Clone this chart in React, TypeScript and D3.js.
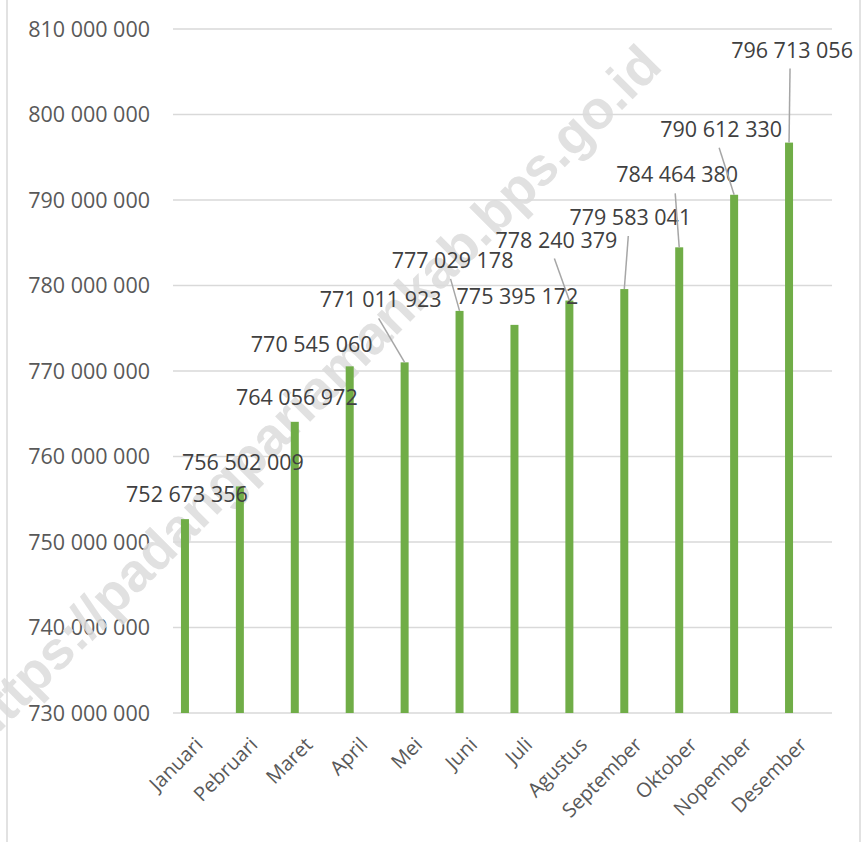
import React from 'react';
import * as d3 from 'd3';

// Data
const months = [
  'Januari', 'Pebruari', 'Maret', 'April', 'Mei', 'Juni',
  'Juli', 'Agustus', 'September', 'Oktober', 'Nopember', 'Desember'
];
const values = [
  752673356, 756502009, 764056972, 770545060, 771011923, 777029178,
  775395172, 778240379, 779583041, 784464380, 790612330, 796713056
];
const yDomain = [730000000, 810000000];

// label layout: moved data labels (dx, dy from bar top) and whether a leader line is drawn
const labelNudge: Array<[number, number, boolean]> = [
  [2, -17, false],
  [3, -16, false],
  [2, -17, false],
  [-38, -14, false],
  [-24, -55, true],
  [-7, -43, true],
  [3, -21, false],
  [-13, -53, true],
  [6, -64, true],
  [-2, -65, true],
  [-13, -58, true],
  [3, -85, true]
];

const WIDTH = 862;
const HEIGHT = 842;
const FONT = '"Open Sans", "DejaVu Sans", sans-serif';

const plot = { left: 173, right: 832, top: 29, bottom: 713 };

const fmt = (v: number) => d3.format(',')(v).replace(/,/g, ' ');

export default function App() {
  const xScale = d3
    .scaleBand()
    .domain(months)
    .range([157.5, 816.5])
    .padding(0);

  const yScale = d3
    .scaleLinear()
    .domain(yDomain)
    .range([plot.bottom, plot.top]);

  const ticks = yScale.ticks(8);
  const barW = 8;
  const cx = (m: string) => (xScale(m) || 0) + xScale.bandwidth() / 2;

  return (
    <svg
      width={WIDTH}
      height={HEIGHT}
      viewBox={`0 0 ${WIDTH} ${HEIGHT}`}
      style={{ position: 'absolute', left: 0, top: 0, background: '#fff' }}
    >
      {/* chart border */}
      <rect x={7} y={-10} width={853} height={HEIGHT + 20} fill="#fff" stroke="#d9d9d9" strokeWidth={1.5} />

      {/* grid + y labels */}
      <g>
        {ticks.map(t => (
          <g key={t}>
            <line
              x1={plot.left}
              x2={plot.right}
              y1={yScale(t)}
              y2={yScale(t)}
              stroke="#d9d9d9"
              strokeWidth={1.5}
            />
            <text
              x={150}
              y={yScale(t)}
              dy="0.36em"
              textAnchor="end"
              fontSize={21.5}
              fontFamily={FONT}
              fill="#595959"
            >
              {fmt(t)}
            </text>
          </g>
        ))}
      </g>

      {/* watermark */}
      <text
        transform="translate(664,68) rotate(-45)"
        textAnchor="end"
        fontSize={54}
        fontWeight="bold"
        fontFamily='"Liberation Sans", Arial, sans-serif'
        fill="#dcdcdc"
        opacity={0.85}
      >
        https://padangpariamankab.bps.go.id
      </text>

      {/* bars */}
      <g>
        {values.map((v, i) => (
          <rect
            key={i}
            x={cx(months[i]) - barW / 2}
            y={yScale(v)}
            width={barW}
            height={yScale(yDomain[0]) - yScale(v)}
            fill="#70ad47"
          />
        ))}
      </g>

      {/* data labels */}
      <g>
        {values.map((v, i) => {
          const x = cx(months[i]);
          const y = yScale(v);
          const [dx, dy, leader] = labelNudge[i];
          return (
            <g key={i}>
              {leader ? (
                <line
                  x1={x + dx - 2}
                  y1={y + dy + 11}
                  x2={x}
                  y2={y}
                  stroke="#a6a6a6"
                  strokeWidth={1.5}
                />
              ) : null}
              <text
                x={x + dx}
                y={y + dy}
                textAnchor="middle"
                fontSize={21.5}
                fontFamily={FONT}
                fill="#404040"
              >
                {fmt(v)}
              </text>
            </g>
          );
        })}
      </g>

      {/* x axis labels */}
      <g>
        {months.map(m => (
          <text
            key={m}
            transform={`translate(${cx(m) + 19},746) rotate(-45)`}
            textAnchor="end"
            fontSize={20}
            fontFamily={FONT}
            fill="#595959"
          >
            {m}
          </text>
        ))}
      </g>
    </svg>
  );
}
